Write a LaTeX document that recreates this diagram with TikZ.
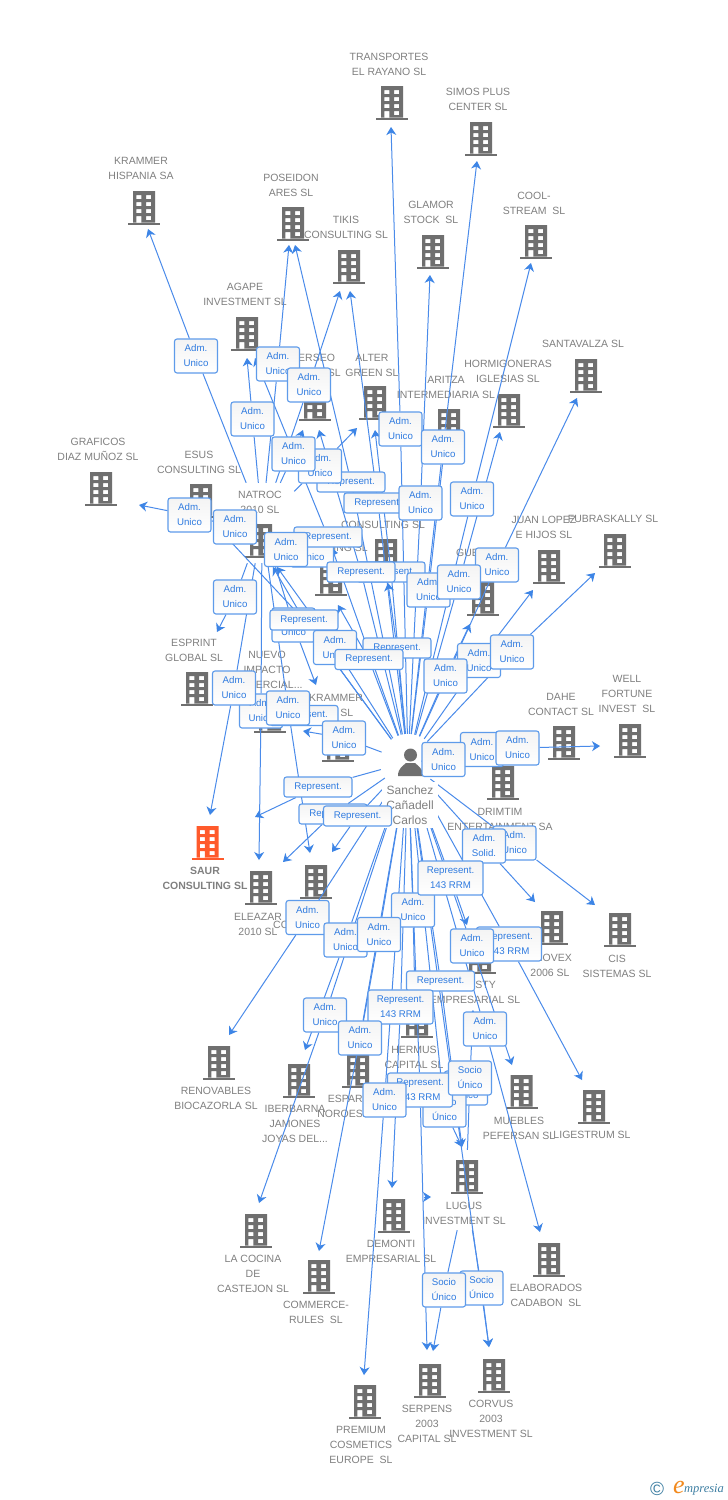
\documentclass[tikz,border=0pt]{standalone}
\usepackage{fontspec}
\setmainfont{Liberation Sans}
\newfontfamily\logofont{Liberation Serif}
\usetikzlibrary{arrows.meta,shadings}
\pgfdeclarelayer{front}
\pgfsetlayers{main,front}
\definecolor{bgray}{HTML}{6F6F6F}
\definecolor{bsaur}{HTML}{FF5A2B}
\definecolor{tgray}{HTML}{808080}
\definecolor{lblue}{HTML}{4A8BEA}
\definecolor{bblue}{HTML}{5E9BEA}
\definecolor{ablue}{HTML}{3D85E6}
\definecolor{txblue}{HTML}{2F7BE0}
\definecolor{logoblue}{HTML}{3E7FA3}
\definecolor{logoor}{HTML}{F28A1E}
\tikzset{
  ctext/.style={inner sep=0pt,align=center,text=tgray,font=\fontsize{10.5}{15}\selectfont},
  ghost/.style={inner sep=0pt,draw=none,fill=none},
  conn/.style={draw=lblue,line width=1pt,-{Stealth[length=8pt,width=10pt,inset=2.5pt,color=ablue]}},
  plainconn/.style={draw=lblue,line width=1pt},
  tag/.style={rounded corners=2.5pt,draw=bblue,line width=1.1pt,top color=gray!9,bottom color=white,
    inner sep=0pt,align=center,text=txblue,font=\fontsize{9.7}{15}\selectfont},
  adm/.style={tag,minimum width=43pt,minimum height=34pt},
  rep/.style={tag,minimum width=68pt,minimum height=20pt},
  rrm/.style={tag,minimum width=65pt,minimum height=34pt}
}
\newcommand\bldg[3][bgray]{%
  \fill[#1,even odd rule,shift={(#2,#3)}]
    (-11,-16) rectangle (11,15.5)
    (-7.6,-12) rectangle (-2.6,-8) (2,-12) rectangle (7,-8)
    (-7.6,-5) rectangle (-2.6,-1) (2,-5) rectangle (7,-1)
    (-7.6,2) rectangle (-2.6,6) (2,2) rectangle (7,6)
    (-7.6,9) rectangle (-2.6,15.5) (2,9) rectangle (7,13);
  \fill[#1,shift={(#2,#3)}] (-16,15.5) rectangle (16,18);
}
\begin{document}
\begin{tikzpicture}[x=1pt,y=-1pt]
\useasboundingbox (0,0) rectangle (728,1500);
\fill[white] (0,0) rectangle (728,1500);
% buildings
\bldg{392}{102}\bldg{481}{138}\bldg{144}{207}\bldg{293}{223}\bldg{349}{266}\bldg{433}{251}\bldg{536}{241}
\bldg{247}{333}\bldg{315}{403}\bldg{375}{402}\bldg{449}{425}\bldg{509}{410}\bldg{586}{375}\bldg{101}{488}
\bldg{201}{500}\bldg{261}{540}\bldg{386}{555}\bldg{331}{578}\bldg{483}{598}\bldg{549}{566}\bldg{615}{550}
\bldg{197}{688}\bldg{270}{715}\bldg{338}{744}\bldg{564}{742}\bldg{630}{740}\bldg{503}{782}\bldg{620}{929}
\bldg{552}{927}\bldg{480}{956}\bldg{417}{1020}\bldg{261}{887}\bldg{316}{881}\bldg[bsaur]{207.5}{842}
\bldg{219}{1062}\bldg{299}{1080}\bldg{358}{1070}\bldg{521.5}{1091}\bldg{594}{1106}\bldg{467}{1176}
\bldg{549}{1259}\bldg{394}{1215}\bldg{256}{1230}\bldg{319}{1276}\bldg{365}{1401}\bldg{430}{1380}\bldg{494}{1375}
% company texts
\node[ctext] (c1) at (389,64.5) {TRANSPORTES\\EL RAYANO SL};
\node[ctext] (c2) at (478,99.5) {SIMOS PLUS\\CENTER SL};
\node[ctext] (c3) at (141,168.5) {KRAMMER\\HISPANIA SA};
\node[ctext] (c4) at (291,185.5) {POSEIDON\\ARES SL};
\node[ctext] (c5) at (346,227.5) {TIKIS\\CONSULTING SL};
\node[ctext] (c6) at (431,212.5) {GLAMOR\\STOCK~ SL};
\node[ctext] (c7) at (534,203.5) {COOL-\\STREAM~ SL};
\node[ctext] (c8) at (245,294.5) {AGAPE\\INVESTMENT SL};
\node[ctext,anchor=west] (c9a) at (298,358) {ERSEO};
\node[ctext,anchor=east] (c9b) at (341,373) {SL};
\node[ctext] (c10) at (372,365.5) {ALTER\\GREEN SL};
\node[ctext] (c11) at (446,387.5) {ARITZA\\INTERMEDIARIA SL};
\node[ctext] (c12) at (508,371.5) {HORMIGONERAS\\IGLESIAS SL};
\node[ctext] (c13) at (583,344) {SANTAVALZA SL};
\node[ctext] (c14) at (98,449.5) {GRAFICOS\\DIAZ MUÑOZ SL};
\node[ctext] (c15) at (199,462.5) {ESUS\\CONSULTING SL};
\node[ctext] (c16) at (260,502.5) {NATROC\\2010 SL};
\node[ctext] (c17) at (383,525) {CONSULTING SL};
\node[ctext,anchor=east] (c18) at (368,548) {ING SL};
\node[ctext,anchor=west] (c19) at (456,553) {GUE};
\node[ctext] (c20) at (544,527.5) {JUAN LOPEZ\\E HIJOS SL};
\node[ctext] (c21) at (613,519) {FUBRASKALLY SL};
\node[ctext] (c22) at (194,650.5) {ESPRINT\\GLOBAL SL};
\node[ctext] (c23) at (267,670) {NUEVO\\IMPACTO\\COMERCIAL...};
\node[ctext,anchor=west] (c24a) at (309,698) {KRAMMER};
\node[ctext,anchor=east] (c24b) at (353.5,713) {SL};
\node[ctext] (c25) at (561,704.5) {DAHE\\CONTACT SL};
\node[ctext] (c26) at (627,694) {WELL\\FORTUNE\\INVEST~ SL};
\node[ctext] (c27) at (500,819.5) {DRIMTIM\\ENTERTAINMENT SA};
\node[ctext,font=\fontsize{10.5}{15}\selectfont\bfseries] (c28) at (205,878.5) {SAUR\\CONSULTING SL};
\node[ctext] (c29) at (258,924.5) {ELEAZAR\\2010 SL};
\node[ctext,anchor=west] (c30) at (273,925) {CO};
\node[ctext,anchor=east] (c31a) at (572,958) {NOVEX};
\node[ctext] (c31b) at (550,973) {2006 SL};
\node[ctext] (c32) at (617,966.5) {CIS\\SISTEMAS SL};
\node[ctext,anchor=east] (c33a) at (496,985) {STY};
\node[ctext] (c33b) at (475,1000) {EMPRESARIAL SL};
\node[ctext] (c34) at (414,1057.5) {HERMUS\\CAPITAL SL};
\node[ctext] (c35) at (216,1098.5) {RENOVABLES\\BIOCAZORLA SL};
\node[ctext] (c36) at (295,1124) {IBERBARNA\\JAMONES\\JOYAS DEL...};
\node[ctext,anchor=east] (c37a) at (363,1099) {ESPAR};
\node[ctext,anchor=east] (c37b) at (363,1114) {NOROES};
\node[ctext] (c38) at (519,1128.5) {MUEBLES\\PEFERSAN SL};
\node[ctext] (c39) at (592,1135) {LIGESTRUM SL};
\node[ctext] (c40) at (464,1213.5) {LUGUS\\INVESTMENT SL};
\node[ctext] (c41) at (391,1251.5) {DEMONTI\\EMPRESARIAL SL};
\node[ctext] (c42) at (546,1295.5) {ELABORADOS\\CADABON~ SL};
\node[ctext] (c43) at (253,1274) {LA COCINA\\DE\\CASTEJON SL};
\node[ctext] (c44) at (316,1312.5) {COMMERCE-\\RULES~ SL};
\node[ctext] (c45) at (361,1445) {PREMIUM\\COSMETICS\\EUROPE~ SL};
\node[ctext] (c46) at (427,1424) {SERPENS\\2003\\CAPITAL SL};
\node[ctext] (c47) at (491,1419) {CORVUS\\2003\\INVESTMENT SL};
% invisible hubs
\node[circle,ghost,minimum size=56pt] (P) at (408,762) {};
\node[ghost,minimum width=64pt,minimum height=80pt] (N) at (262,523) {};
\node[ghost,minimum width=70pt,minimum height=80pt] (G) at (466,1190) {};
% tags, back to front
\begin{pgfonlayer}{front}
\node[fill=white,inner sep=0pt,minimum width=56pt,minimum height=46pt,align=center,text=tgray,font=\fontsize{12}{15}\selectfont] (pname) at (410,805) {Sanchez\\Cañadell\\Carlos};
\fill[bgray] (410.5,755) circle (6.5);
\fill[bgray] (398,776) .. controls (398,768) and (403,766) .. (406,763) -- (415,763) .. controls (418,766) and (423,768) .. (423,776) -- cycle;
\node[adm] (a01) at (196,356) {Adm.\\Unico};
\node[adm] (a02) at (278,364) {Adm.\\Unico};
\node[adm] (a03) at (309,385) {Adm.\\Unico};
\node[adm] (a04) at (252.5,419) {Adm.\\Unico};
\node[rep] (r01) at (351,482) {Represent.};
\node[adm] (a05) at (320,466) {Adm.\\Unico};
\node[adm] (a06) at (293.5,454) {Adm.\\Unico};
\node[adm] (a07) at (400.5,429) {Adm.\\Unico};
\node[adm] (a08) at (443,447) {Adm.\\Unico};
\node[rep] (r02) at (378,503) {Represent.};
\node[adm] (a09) at (420.5,503) {Adm.\\Unico};
\node[adm] (a10) at (472,499) {Adm.\\Unico};
\node[adm] (a11) at (189.5,515) {Adm.\\Unico};
\node[adm] (a12) at (235,527) {Adm.\\Unico};
\node[adm] (a13) at (312,550) {Adm.\\Unico};
\node[rep] (r03) at (328,537) {Represent.};
\node[adm] (a14) at (286,549.5) {Adm.\\Unico};
\node[rep] (r04) at (391,572) {Represent.};
\node[rep] (r05) at (361,572) {Represent.};
\node[adm] (a15) at (428.5,590) {Adm.\\Unico};
\node[adm] (a16) at (497,565) {Adm.\\Unico};
\node[adm] (a17) at (459,582) {Adm.\\Unico};
\node[adm] (a18) at (235,597) {Adm.\\Unico};
\node[adm] (a19) at (293.5,625) {Adm.\\Unico};
\node[rep] (r06) at (304,620) {Represent.};
\node[adm] (a20) at (335,647.5) {Adm.\\Unico};
\node[rep] (r07) at (397,648) {Represent.};
\node[rep] (r08) at (369,659.5) {Represent.};
\node[adm] (a21) at (479,660.5) {Adm.\\Unico};
\node[adm] (a22) at (445.5,676) {Adm.\\Unico};
\node[adm] (a23) at (512,652) {Adm.\\Unico};
\node[adm] (a24) at (261,711) {Adm.\\Unico};
\node[adm] (a25) at (234,688) {Adm.\\Unico};
\node[rep] (r09) at (304,715.5) {Represent.};
\node[adm] (a26) at (288,708) {Adm.\\Unico};
\node[adm] (a27) at (344,738) {Adm.\\Unico};
\node[adm] (a28) at (482,749.5) {Adm.\\Unico};
\node[adm] (a29) at (443.5,759.5) {Adm.\\Unico};
\node[adm] (a30) at (517.5,748) {Adm.\\Unico};
\node[rep] (r10) at (318,787) {Represent.};
\node[rep] (r11) at (333,814) {Represent.};
\node[rep] (r12) at (357.5,816) {Represent.};
\node[adm] (a31) at (514.5,843) {Adm.\\Unico};
\node[adm] (a32) at (484,846) {Adm.\\Solid.};
\node[adm] (a33) at (413,910) {Adm.\\Unico};
\node[rrm] (m01) at (450.5,878) {Represent.\\143 RRM};
\node[adm] (a34) at (307.5,917.5) {Adm.\\Unico};
\node[adm] (a35) at (345.5,940) {Adm.\\Unico};
\node[adm] (a36) at (379,934.5) {Adm.\\Unico};
\node[rrm] (m02) at (509,944) {Represent.\\143 RRM};
\node[adm] (a37) at (472,946) {Adm.\\Unico};
\node[rep] (r13) at (440.5,981) {Represent.};
\node[rrm] (m03) at (400.5,1007) {Represent.\\143 RRM};
\node[adm] (a38) at (325,1015) {Adm.\\Unico};
\node[adm] (a39) at (360,1038) {Adm.\\Unico};
\node[adm] (a40) at (485,1029) {Adm.\\Unico};
\node[adm] (a41) at (466,1088) {Adm.\\Unico};
\node[adm] (a42) at (444.5,1110) {Socio\\Único};
\node[rrm] (m04) at (420,1090) {Represent.\\143 RRM};
\node[adm] (a43) at (384.5,1100) {Adm.\\Unico};
\node[adm] (a44) at (470,1078) {Socio\\Único};
\node[adm] (a45) at (481.5,1288) {Socio\\Único};
\node[adm] (a46) at (444,1290) {Socio\\Único};
\node[text=logoblue,inner sep=0pt,font=\fontsize{19}{19}\selectfont] (lg1) at (657,1489) {©};
\node[text=logoor,inner sep=0pt,font=\logofont\itshape\fontsize{26}{26}\selectfont] (lg2) at (679,1487) {e};
\node[text=logoblue,inner sep=0pt,font=\logofont\itshape\fontsize{12.5}{13}\selectfont] (lg3) at (704,1490) {mpresia};
\end{pgfonlayer}
% arrow tips
\foreach \nm/\cx/\cy in {t01/148/229,t02/247/358,t03/289/245,t04/340/291,t05/303/430,t06/357/428,t07/139/505,t08/338/553,t09/217/632,t10/210/815,t11/259/860,t12/310/853,t13/316/685,
 u01/391/127,u02/477/161,u03/531/263,u04/430/275,u05/577/398,u06/500/432,u07/445/442,u08/595/573,u09/533/590,u10/470/624,u11/600/746,u12/295/245,u13/350/291,u14/255/358,u15/319/430,u16/375/430,u17/388/583,u18/338/605,u19/277/567,u20/217/527,u21/273/567,u22/303/731,u23/255/817,u24/283/862,u25/332/852,u26/229/1035,u27/305/1050,u28/360/1040,u29/319/1251,u30/259/1203,u31/364/1375,u32/392/1188,u33/415/1002,u34/462/1147,u35/427/1350,u36/489/1347,u37/467/925,u38/582/1080,u39/512/1065,u40/540/1232,u41/535/902,u42/595/905,
 v01/473/1010,v02/433/1351,v03/489/1347,x1/424/1197,x2/431/1197}
  {\coordinate (\nm) at (\cx,\cy);}
% connectors from NATROC
\draw[conn] (N) -- (a01) -- (t01);
\draw[conn] (N) -- (a04) -- (t02);
\draw[conn] (N) -- (a02) -- (t03);
\draw[conn] (N) -- (a03) -- (t04);
\draw[conn] (N) -- (a06) -- (t05);
\draw[conn] (N) -- (a05) -- (t06);
\draw[conn] (N) -- (a12) -- (a11) -- (t07);
\draw[conn] (N) -- (a14) -- (a13) -- (t08);
\draw[conn] (N) -- (a18) -- (t09);
\draw[conn] (N) -- (a25) -- (t10);
\draw[conn] (N) -- (a24) -- (t11);
\draw[conn] (N) -- (a26) -- (t12);
\draw[conn] (N) -- (a19) -- (t13);
% connectors from the person
\draw[conn] (P) -- (a07) -- (u01);
\draw[conn] (P) -- (a08) -- (u02);
\draw[conn] (P) -- (a10) -- (u03);
\draw[conn] (P) -- (a09) -- (u04);
\draw[conn] (P) -- (a16) -- (u05);
\draw[conn] (P) -- (a17) -- (u06);
\draw[conn] (P) -- (a15) -- (u07);
\draw[conn] (P) -- (a23) -- (u08);
\draw[conn] (P) -- (a21) -- (u09);
\draw[conn] (P) -- (a22) -- (u10);
\draw[conn] (P) -- (a28) -- (a30) -- (u11);
\draw[plainconn] (P) -- (a29) -- (a28);
\draw[conn] (P) -- (r01) -- (u12);
\draw[conn] (P) -- (r02) -- (u13);
\draw[conn] (P) -- (r03) -- (u14);
\draw[conn] (P) -- (r05) -- (u15);
\draw[conn] (P) -- (r04) -- (u16);
\draw[conn] (P) -- (r07) -- (u17);
\draw[conn] (P) -- (r08) -- (u18);
\draw[conn] (P) -- (a20) -- (u19);
\draw[conn] (P) -- (r06) -- (u20);
\draw[conn] (P) -- (r06) -- (u21);
\draw[conn] (P) -- (a27) -- (u22);
\draw[plainconn] (a27) -- (r09);
\draw[conn] (P) -- (r10) -- (u23);
\draw[conn] (P) -- (r11) -- (u24);
\draw[conn] (P) -- (r12) -- (u25);
\draw[conn] (P) -- (a34) -- (u26);
\draw[conn] (P) -- (a35) -- (u27);
\draw[conn] (P) -- (a36) -- (u28);
\draw[conn] (P) -- (a39) -- (u29);
\draw[conn] (P) -- (a38) -- (u30);
\draw[conn] (P) -- (a43) -- (u31);
\draw[conn] (P) -- (m03) -- (u32);
\draw[conn] (P) -- (a33) -- (u33);
\draw[conn] (P) -- (r13) -- (u34);
\draw[conn] (P) -- (a42) -- (u34);
\draw[conn] (P) -- (m04) -- (u35);
\draw[conn] (P) -- (u36);
\draw[conn] (P) -- (m01) -- (u37);
\draw[conn] (P) -- (m02) -- (u38);
\draw[conn] (P) -- (a37) -- (u39);
\draw[conn] (P) -- (a40) -- (u40);
\draw[conn] (P) -- (a32) -- (u41);
\draw[conn] (P) -- (a31) -- (u42);
% connectors from LUGUS
\draw[conn] (G) -- (a44) -- (v01);
\draw[conn] (G) -- (a46) -- (v02);
\draw[conn] (G) -- (a45) -- (v03);
\draw[conn] (x1) -- (x2);
\end{tikzpicture}
\end{document}
